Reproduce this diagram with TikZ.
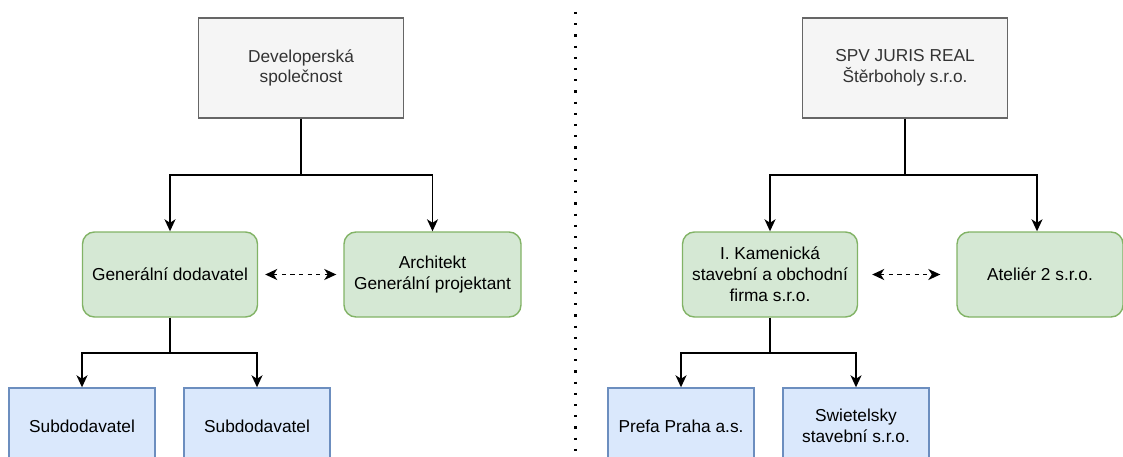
\documentclass[tikz,border=0pt]{standalone}
\usepackage{fontspec}
\setmainfont{Liberation Sans}
\usetikzlibrary{arrows.meta}
\definecolor{grayfill}{HTML}{F5F5F5}
\definecolor{graydraw}{HTML}{666666}
\definecolor{graytext}{HTML}{333333}
\definecolor{greenfill}{HTML}{D5E8D4}
\definecolor{greendraw}{HTML}{82B366}
\definecolor{bluefill}{HTML}{DAE8FC}
\definecolor{bluedraw}{HTML}{6C8EBF}
\begin{document}
\begin{tikzpicture}[x=1pt,y=-1pt,
        every node/.style={font=\fontsize{17.3}{20.8}\selectfont, align=center, line width=1.4pt},
        ownerbox/.style={draw=graydraw, fill=grayfill, text=graytext, minimum width=205pt, minimum height=100pt},
        partybox/.style={draw=greendraw, fill=greenfill, rounded corners=12pt, minimum width=175pt, minimum height=85pt},
        subbox/.style={draw=bluedraw, fill=bluefill, minimum width=146pt, minimum height=76pt},
        conn/.style={line width=1.6pt, -{Stealth[length=12pt,width=11pt,inset=3.5pt]}},
        dasharrow/.style={conn, {Stealth[length=12pt,width=11pt,inset=3.5pt]}-{Stealth[length=12pt,width=11pt,inset=3.5pt]}, dash pattern=on 4.3pt off 4.3pt}]
        \useasboundingbox (0,0) rectangle (1123,457);

        % left tree
        \node[ownerbox] (dev) at (301,68) {Developerská\\společnost};
        \node[partybox] (gd) at (170,274.5) {Generální dodavatel};
        \node[partybox, minimum width=177pt] (arch) at (432.5,274.5) {Architekt\\Generální projektant};
        \node[subbox] (sub1) at (82,426) {Subdodavatel};
        \node[subbox] (sub2) at (257,426) {Subdodavatel};

        \coordinate (devj) at (301,175);
        \coordinate (gdj) at (170,353);
        \draw[conn] (dev.south) -- (devj) -| (gd.north);
        \draw[conn] (devj) -| (arch.north);
        \draw[conn] (gd.south) -- (gdj) -| (sub1.north);
        \draw[conn] (gdj) -| (sub2.north);
        \draw[dasharrow, shorten <=7pt, shorten >=7pt] (gd.east) -- (arch.west);

        % divider
        \draw[line width=2.2pt, dash pattern=on 2.2pt off 9pt] (575.5,12) -- (575.5,457);

        % right tree
        \node[ownerbox] (spv) at (905,68) {SPV JURIS REAL\\Štěrboholy s.r.o.};
        \node[partybox] (kam) at (770,274.5) {I. Kamenická\\stavební a obchodní\\firma s.r.o.};
        \node[partybox, minimum width=166pt] (atel) at (1040,274.5) {Ateliér 2 s.r.o.};
        \node[subbox] (prefa) at (681,426) {Prefa Praha a.s.};
        \node[subbox] (swiet) at (856,426) {Swietelsky\\stavební s.r.o.};

        \coordinate (spvj) at (905,175);
        \coordinate (kamj) at (770,353);
        \draw[conn] (spv.south) -- (spvj) -| (kam.north);
        \draw[conn] (spvj) -| ([xshift=-3pt]atel.north);
        \draw[conn] (kam.south) -- (kamj) -| (prefa.north);
        \draw[conn] (kamj) -| (swiet.north);
        \draw[dasharrow, shorten <=14pt, shorten >=16pt] (kam.east) -- (atel.west);
    \end{tikzpicture}
\end{document}
